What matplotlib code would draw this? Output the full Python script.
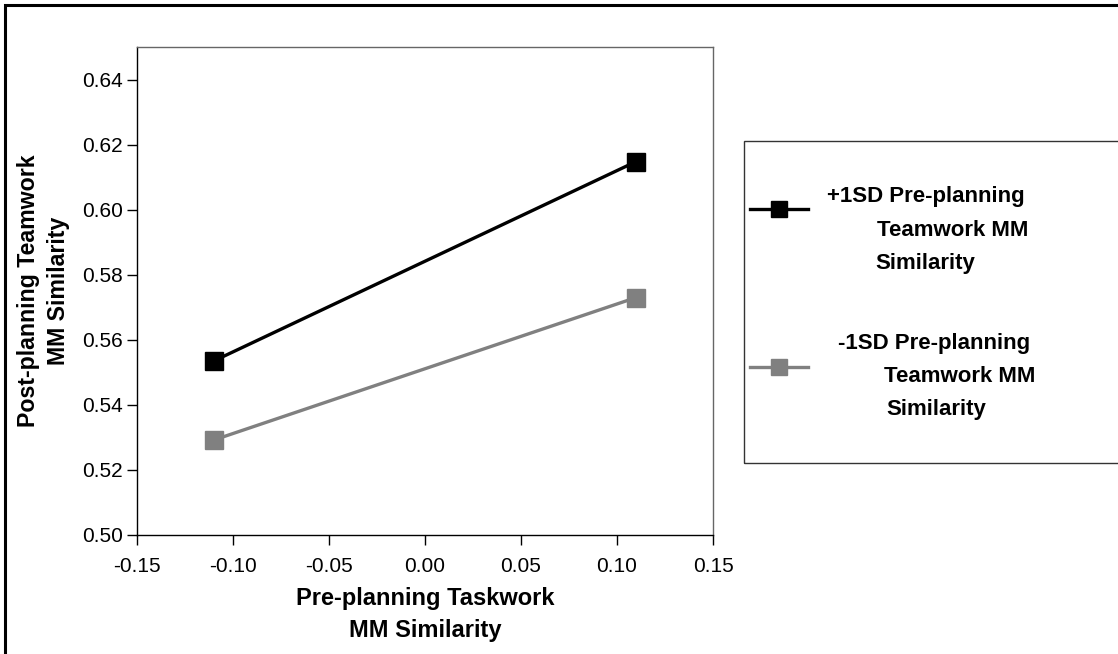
import matplotlib
matplotlib.use("Agg")
import matplotlib.pyplot as plt
from matplotlib.lines import Line2D
from matplotlib.patches import Rectangle

# ---- data ----
x_vals = [-0.11, 0.11]
high_vals = [0.5535, 0.6148]   # +1SD
low_vals = [0.5292, 0.5730]    # -1SD
x_ticks = [-0.15, -0.10, -0.05, 0.00, 0.05, 0.10, 0.15]
y_ticks = [0.50, 0.52, 0.54, 0.56, 0.58, 0.60, 0.62, 0.64]
legend_high = ["+1SD Pre-planning", "Teamwork MM", "Similarity"]
legend_low = ["-1SD Pre-planning", "Teamwork MM", "Similarity"]
x_label = "Pre-planning Taskwork\nMM Similarity"
y_label = "Post-planning Teamwork\nMM Similarity"

plt.rcParams['font.family'] = ['Liberation Sans', 'DejaVu Sans']

W, H = 1118, 654
fig = plt.figure(figsize=(W / 100, H / 100), dpi=100)

def fx(px):
    return px / W

def fy(py):
    return 1 - py / H

ax = fig.add_axes([fx(137), fy(535), fx(713) - fx(137), fy(47) - fy(535)])

black = "#000000"
gray = "#808080"
ax.plot(x_vals, high_vals, color=black, lw=2.4, marker='s', ms=13.5,
        mfc=black, mec=black, solid_capstyle='butt')
ax.plot(x_vals, low_vals, color=gray, lw=2.4, marker='s', ms=13.5,
        mfc=gray, mec=gray, solid_capstyle='butt')

ax.set_xlim(-0.15, 0.15)
ax.set_ylim(0.50, 0.65)
ax.set_xticks(x_ticks)
ax.set_yticks(y_ticks)
ax.set_xticklabels([f"{v:.2f}" for v in x_ticks])
ax.set_yticklabels([f"{v:.2f}" for v in y_ticks])
ax.tick_params(axis='both', labelsize=15, direction='out', length=7, width=1,
               color=black)
ax.tick_params(axis='x', pad=9)
ax.tick_params(axis='y', pad=3)

for side in ['left', 'bottom']:
    ax.spines[side].set_color(black)
    ax.spines[side].set_linewidth(1.0)
for side in ['top', 'right']:
    ax.spines[side].set_color("#666666")
    ax.spines[side].set_linewidth(1.0)

ax.set_xlabel(x_label, fontsize=17, fontweight='bold', labelpad=8, linespacing=1.5)
ax.set_ylabel(y_label, fontsize=16.7, fontweight='bold', labelpad=9, linespacing=1.4)

# outer border (top & left visible, right & bottom cut off)
fig.add_artist(Rectangle((fx(5), fy(700)), fx(1200), fy(5) - fy(700),
                         transform=fig.transFigure, fill=False,
                         edgecolor=black, lw=2.2, clip_on=False))

# legend box
fig.add_artist(Rectangle((fx(744), fy(463)), fx(420), fy(141) - fy(463),
                         transform=fig.transFigure, fill=False,
                         edgecolor="#333333", lw=1.0, clip_on=False))

def legend_entry(color, key_y, lines, xs, ys):
    fig.add_artist(Line2D([fx(750), fx(808)], [fy(key_y), fy(key_y)],
                          transform=fig.transFigure, color=color, lw=2.4))
    fig.add_artist(Line2D([fx(779)], [fy(key_y)], transform=fig.transFigure,
                          marker='s', ms=11, mfc=color, mec=color, lw=0))
    for t, x, y in zip(lines, xs, ys):
        fig.text(fx(x), fy(y), t, fontsize=16, fontweight='bold',
                 ha='left', va='center')

legend_entry(black, 209, legend_high, [827, 877, 875], [196, 230, 263])
legend_entry(gray, 367, legend_low, [838, 884, 886], [343, 376, 409])

fig.savefig("out.png", dpi=100, facecolor="white")
